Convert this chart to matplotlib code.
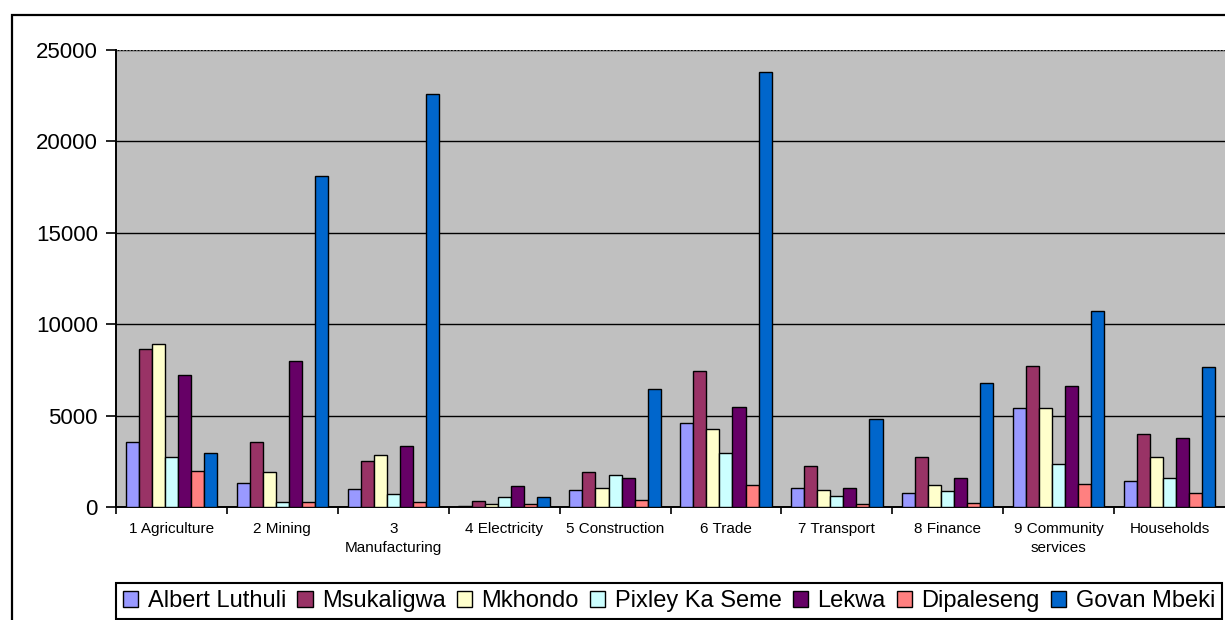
import numpy as np
import matplotlib.pyplot as plt
from matplotlib.patches import Rectangle
plt.rcParams["font.family"] = "Liberation Sans"

sectors = ["1 Agriculture", "2 Mining", "3\nManufacturing", "4 Electricity",
           "5 Construction", "6 Trade", "7 Transport", "8 Finance",
           "9 Community\nservices", "Households"]
municipalities = ["Albert Luthuli", "Msukaligwa", "Mkhondo", "Pixley Ka Seme",
                  "Lekwa", "Dipaleseng", "Govan Mbeki"]

albert_luthuli = [3580, 1300, 980, 70, 950, 4580, 1020, 780, 5400, 1440]
msukaligwa = [8670, 3580, 2540, 310, 1930, 7420, 2240, 2710, 7730, 4020]
mkhondo = [8930, 1890, 2840, 160, 1040, 4270, 950, 1180, 5400, 2730]
pixley_ka_seme = [2750, 300, 720, 560, 1760, 2960, 620, 870, 2330, 1580]
lekwa = [7220, 7960, 3340, 1130, 1600, 5470, 1020, 1580, 6600, 3760]
dipaleseng = [1950, 300, 300, 160, 380, 1200, 150, 240, 1270, 780]
govan_mbeki = [2930, 18100, 22600, 560, 6440, 23800, 4820, 6760, 10730, 7650]

series = [albert_luthuli, msukaligwa, mkhondo, pixley_ka_seme,
          lekwa, dipaleseng, govan_mbeki]
colors = ["#9999FF", "#993366", "#FFFFCC", "#CCFFFF",
          "#660066", "#FF8080", "#0066CC"]

fig = plt.figure(figsize=(12.25, 6.2), dpi=100)
ax = fig.add_axes([116/1225, 1 - 507/620, 1109/1225, 457/620])
ax.set_facecolor("#C0C0C0")

# outer chart frame (runs off the right and bottom edges)
fig.patches.append(Rectangle((12/1225, -0.2), 1.2, 1.2 - 15/620,
                             transform=fig.transFigure, fill=False,
                             edgecolor="black", linewidth=1.6, zorder=0))

n = len(series)
w = 1 / (n + 1.5)
x = np.arange(len(sectors))
for i, (vals, c, name) in enumerate(zip(series, colors, municipalities)):
    pos = x + 0.75 * w + (i + 0.5) * w
    ax.bar(pos, vals, width=w, color=c, edgecolor="black", linewidth=1.0,
           label=name, zorder=3)

ax.set_xlim(0, len(sectors))
ax.set_ylim(0, 25000)
ax.set_yticks(np.arange(0, 25001, 5000))
ax.tick_params(axis="y", labelsize=16, direction="out", length=7, width=1.2, pad=6)

ax.set_xticks(np.arange(0, len(sectors)))
ax.set_xticklabels([])
ax.set_xticks(x + 0.5, minor=True)
ax.set_xticklabels(sectors, minor=True, fontsize=11, linespacing=1.45, va="top")
ax.tick_params(axis="x", which="major", direction="out", length=5, width=1.2)
ax.tick_params(axis="x", which="minor", length=0, pad=11)

ax.yaxis.grid(True, color="black", linewidth=1.0, zorder=1)
ax.set_axisbelow(True)
for s in ["top", "right"]:
    ax.spines[s].set_visible(False)
ax.spines["left"].set_linewidth(1.4)
ax.spines["bottom"].set_linewidth(1.4)
ax.axhline(25000, color="#888888", linewidth=1.2, linestyle=(0, (1, 1)), zorder=2)

leg = fig.legend(loc="upper left", ncol=7, mode="expand",
                 bbox_to_anchor=(116/1225, 1 - 583/620 - 0.1, 1106/1225, 0.1),
                 borderaxespad=0, fontsize=17, frameon=True, fancybox=False,
                 framealpha=1, handlelength=0.65, handleheight=0.65,
                 handletextpad=0.4, columnspacing=0.5, borderpad=0.3)
leg.get_frame().set_edgecolor("black")
leg.get_frame().set_linewidth(1.5)
for h in leg.legend_handles:
    h.set_linewidth(1.0)

fig.savefig("out.png", dpi=100)
